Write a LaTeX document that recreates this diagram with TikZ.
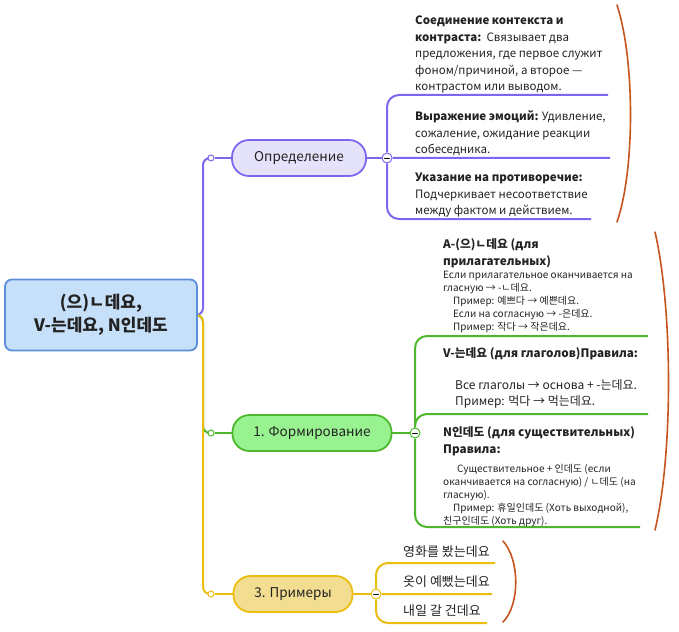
\documentclass[tikz,border=0pt]{standalone}
\usepackage{fontspec}
\setmainfont{Noto Sans CJK KR}
\usetikzlibrary{backgrounds}
\definecolor{ink}{HTML}{222222}
\definecolor{rootline}{HTML}{5B8FD9}
\definecolor{rootfill}{HTML}{C6E0F9}
\definecolor{defline}{HTML}{8066EE}
\definecolor{deffill}{HTML}{E5E3FB}
\definecolor{formline}{HTML}{4DB82E}
\definecolor{formfill}{HTML}{99F290}
\definecolor{exline}{HTML}{EBBD10}
\definecolor{exfill}{HTML}{F2DD90}
\definecolor{bracecol}{HTML}{C5541E}
\tikzset{
  root/.style={draw=rootline,fill=rootfill,line width=1.8pt,rounded corners=7pt,
    minimum width=192pt,minimum height=71pt,align=center,text=ink,
    font=\bfseries\fontsize{17}{23}\selectfont},
  topic/.style={line width=1.8pt,rounded corners=17pt,minimum height=36pt,text=ink,
    font=\fontsize{13.5}{14}\selectfont},
  leaf/.style={anchor=north west,inner sep=0pt,align=left,text=ink,
    font=\fontsize{11.5}{16.5}\selectfont},
  head/.style={leaf,font=\bfseries\fontsize{11.7}{17}\selectfont},
  small/.style={leaf,font=\fontsize{10}{13}\selectfont},
  hook/.style={circle,draw,fill=white,line width=1pt,minimum size=6pt,inner sep=0pt},
  fold/.style={circle,draw,fill=white,line width=1pt,minimum size=10pt,inner sep=0pt,
    path picture={\draw[black,line width=.9pt]
      ([xshift=-2.5pt]path picture bounding box.center)--([xshift=2.5pt]path picture bounding box.center);}},
  link/.style={line width=2pt,rounded corners=12pt},
  brace/.style={draw=bracecol,line width=1.6pt}
}
\begin{document}
\begin{tikzpicture}[x=1pt,y=-1pt,line cap=round]
\useasboundingbox (0,0) rectangle (679,631);
% central topic
\node[root] (root) at (101,315) {(으)ㄴ데요,\\V-는데요, N인데도};
\coordinate (trunk) at (203,315);
% main branches
\node[topic,draw=defline,fill=deffill,minimum width=134pt] (def) at (299,158) {Определение};
\node[topic,draw=formline,fill=formfill,minimum width=159pt] (form) at (312,433) {1. Формирование};
\node[topic,draw=exline,fill=exfill,minimum width=119pt] (ex) at (293,594) {3. Примеры};
\node[hook,draw=defline] (defhook) at (211,158) {};
\node[hook,draw=formline] (formhook) at (211,433) {};
\node[hook,draw=exline] (exhook) at (211,594) {};
\node[fold,draw=defline] (deffold) at (387,158) {};
\node[fold,draw=formline] (formfold) at (415,433) {};
\node[fold,draw=exline] (exfold) at (376,594) {};
% Определение
\node[leaf] (d1) at (415,16) {\textbf{Соединение контекста и}\\\textbf{контраста:}\ \ Связывает два\\предложения, где первое служит\\фоном/причиной, а второе —\\контрастом или выводом.};
\node[leaf] (d2) at (415,111) {\textbf{Выражение эмоций:} Удивление,\\сожаление, ожидание реакции\\собеседника.};
\node[leaf] (d3) at (415,173) {\textbf{Указание на противоречие:}\\Подчеркивает несоответствие\\между фактом и действием.};
\coordinate (d1end) at (608,95);
\coordinate (d2end) at (610,158);
\coordinate (d3end) at (591,219);
% Формирование
\node[head] (f1) at (443,238) {A-(으)ㄴ데요 (для\\прилагательных)};
\node[small] (f1b) at (443,271) {Если прилагательное оканчивается на\\гласную → -ㄴ데요.\\\hspace*{10pt}Пример: 예쁘다 → 예쁜데요.\\\hspace*{10pt}Если на согласную → -은데요.\\\hspace*{10pt}Пример: 작다 → 작은데요.};
\node[head] (f2) at (443,347) {V-는데요 (для глаголов)Правила:};
\node[leaf,font=\fontsize{12}{16}\selectfont] (f2b) at (455,379) {Все глаголы → основа + -는데요.\\Пример: 먹다 → 먹는데요.};
\node[head] (f3) at (443,426) {N인데도 (для существительных)\\Правила:};
\node[small] (f3b) at (443,464) {\hspace*{14pt}Существительное + 인데도 (если\\оканчивается на согласную) / ㄴ데도 (на\\гласную).\\\hspace*{10pt}Пример: 휴일인데도 (Хоть выходной),\\친구인데도 (Хоть друг).};
\coordinate (f1end) at (648,336);
\coordinate (f2end) at (648,414);
\coordinate (f3end) at (640,527);
% Примеры
\node[leaf,anchor=west,font=\fontsize{13}{14}\selectfont] (e1) at (403,552) {영화를 봤는데요};
\node[leaf,anchor=west,font=\fontsize{13}{14}\selectfont] (e2) at (403,582) {옷이 예뻤는데요};
\node[leaf,anchor=west,font=\fontsize{13}{14}\selectfont] (e3) at (403,611) {내일 갈 건데요};
\coordinate (e1end) at (495,563);
\coordinate (e2end) at (492,594);
\coordinate (e3end) at (487,623);
\begin{scope}[on background layer]
  \draw[link,draw=defline,rounded corners=7pt] (root.east)--(trunk)|-(defhook);
  \draw[link,draw=formline,rounded corners=7pt] (root.east)--(trunk)|-(formhook);
  \draw[link,draw=exline,rounded corners=7pt] (root.east)--(trunk)|-(exhook);
  \draw[link,draw=defline] (defhook)--(def) (def)--(deffold);
  \draw[link,draw=defline] (deffold)|-(d1end) (deffold)--(d2end) (deffold)|-(d3end);
  \draw[link,draw=formline] (formhook)--(form) (form)--(formfold);
  \draw[link,draw=formline] (formfold)|-(f1end) (formfold)|-(f2end) (formfold)|-(f3end);
  \draw[link,draw=exline] (exhook)--(ex) (ex)--(exfold);
  \draw[link,draw=exline] (exfold)|-(e1end) (exfold)--(e2end) (exfold)|-(e3end);
\end{scope}
% summaries
\draw[brace] (617,5) .. controls (635,60) and (635,170) .. (617,222);
\draw[brace] (655,232) .. controls (673,310) and (673,455) .. (655,530);
\draw[brace] (503,541) .. controls (520,560) and (520,605) .. (503,622);
\end{tikzpicture}
\end{document}
